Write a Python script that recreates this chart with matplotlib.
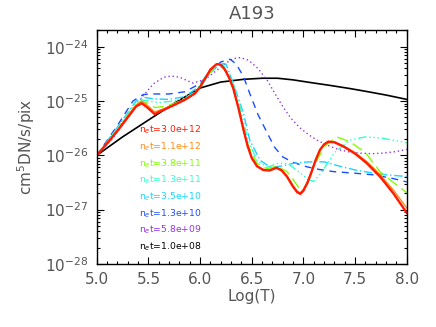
import numpy as np
import matplotlib
matplotlib.use("Agg")
import matplotlib.pyplot as plt
from matplotlib.ticker import MultipleLocator, LogLocator, NullFormatter, FixedLocator

title = "A193"
xlabel = "Log(T)"
ylabel = "cm$^5$DN/s/pix"

labels = ["3.0e+12", "1.1e+12", "3.8e+11", "1.3e+11", "3.5e+10", "1.3e+10", "5.8e+09", "1.0e+08"]

x_red = [5.0,5.1,5.2,5.3,5.38,5.435,5.49,5.56,5.65,5.74,5.85,5.95,6.0,6.05,6.1,6.16,6.2,6.24,6.28,6.32,6.37,6.42,6.46,6.5,6.55,6.61,6.67,6.74,6.79,6.84,6.9,6.94,6.97,7.0,7.04,7.07,7.12,7.16,7.2,7.24,7.3,7.39,7.5,7.61,7.74,7.87,8.0]
y_red = [-26.0,-25.78,-25.55,-25.3,-25.1,-25.04,-25.12,-25.24,-25.16,-25.08,-24.98,-24.86,-24.74,-24.58,-24.42,-24.32,-24.33,-24.42,-24.57,-24.76,-25.12,-25.53,-25.83,-26.05,-26.2,-26.27,-26.28,-26.23,-26.28,-26.39,-26.58,-26.68,-26.71,-26.65,-26.5,-26.35,-26.08,-25.9,-25.8,-25.75,-25.76,-25.84,-25.97,-26.14,-26.39,-26.7,-27.06]

x_orange = [5.0,5.1,5.2,5.3,5.38,5.435,5.49,5.56,5.65,5.74,5.85,5.95,6.0,6.05,6.1,6.16,6.2,6.24,6.28,6.32,6.37,6.42,6.46,6.5,6.55,6.61,6.67,6.74,6.79,6.84,6.9,6.94,6.97,7.0,7.04,7.07,7.12,7.16,7.2,7.24,7.3,7.39,7.5,7.61,7.74,7.87,8.0]
y_orange = [-26.0,-25.77,-25.53,-25.27,-25.07,-25.0,-25.08,-25.2,-25.14,-25.07,-24.97,-24.86,-24.74,-24.58,-24.42,-24.32,-24.33,-24.42,-24.57,-24.76,-25.12,-25.53,-25.83,-26.05,-26.2,-26.26,-26.27,-26.22,-26.27,-26.38,-26.56,-26.66,-26.69,-26.63,-26.48,-26.33,-26.07,-25.89,-25.79,-25.74,-25.75,-25.83,-25.95,-26.11,-26.35,-26.64,-26.97]

x_green = [5.0,5.2,5.38,5.43,5.5,5.56,5.65,5.74,5.85,5.95,6.05,6.16,6.2,6.28,6.37,6.46,6.55,6.65,6.74,6.84,6.92,6.98,7.03,7.1,7.2,7.32,7.45,7.6,7.74,7.87,8.0]
y_green = [-26.0,-25.53,-25.07,-25.0,-25.05,-25.12,-25.1,-25.05,-24.97,-24.86,-24.58,-24.33,-24.33,-24.55,-25.1,-25.8,-26.15,-26.25,-26.2,-26.3,-26.5,-26.67,-26.55,-26.2,-25.85,-25.66,-25.75,-25.95,-26.3,-26.5,-26.69]

x_turq = [5.0,5.2,5.38,5.43,5.5,5.6,5.74,5.85,5.95,6.05,6.16,6.22,6.3,6.38,6.46,6.55,6.65,6.75,6.85,6.95,7.05,7.1,7.18,7.3,7.45,7.6,7.75,8.0]
y_turq = [-26.0,-25.5,-25.02,-24.98,-25.0,-25.03,-25.0,-24.95,-24.83,-24.55,-24.32,-24.33,-24.55,-25.05,-25.7,-26.1,-26.22,-26.15,-26.15,-26.3,-26.45,-26.48,-26.3,-25.95,-25.72,-25.66,-25.68,-25.77]

x_cyan = [5.0,5.2,5.38,5.45,5.55,5.7,5.85,6.0,6.1,6.2,6.25,6.32,6.42,6.48,6.58,6.68,6.78,6.9,7.05,7.2,7.35,7.5,7.65,7.8,8.0]
y_cyan = [-26.0,-25.48,-25.0,-24.93,-24.96,-24.97,-24.92,-24.72,-24.48,-24.3,-24.32,-24.67,-25.23,-25.72,-26.09,-26.22,-26.2,-26.15,-26.12,-26.12,-26.2,-26.27,-26.32,-26.36,-26.39]

x_blue = [5.0,5.2,5.35,5.45,5.55,5.7,5.85,6.0,6.1,6.2,6.29,6.35,6.42,6.48,6.56,6.65,6.72,6.8,6.9,7.03,7.15,7.29,7.5,7.68,7.85,8.0]
y_blue = [-26.0,-25.45,-25.0,-24.88,-24.87,-24.87,-24.83,-24.68,-24.45,-24.28,-24.23,-24.32,-24.55,-24.86,-25.25,-25.59,-25.85,-26.03,-26.13,-26.21,-26.26,-26.3,-26.33,-26.36,-26.42,-26.49]

x_purple = [5.0,5.15,5.3,5.45,5.55,5.65,5.72,5.8,5.93,6.05,6.15,6.25,6.32,6.39,6.47,6.56,6.65,6.72,6.8,6.88,6.97,7.05,7.13,7.25,7.35,7.45,7.55,7.67,7.77,7.9,8.0]
y_purple = [-26.0,-25.7,-25.3,-24.9,-24.68,-24.56,-24.54,-24.56,-24.67,-24.6,-24.45,-24.3,-24.22,-24.2,-24.25,-24.4,-24.62,-24.85,-25.1,-25.32,-25.5,-25.62,-25.72,-25.83,-25.9,-25.94,-25.96,-25.97,-25.96,-25.93,-25.89]

x_black = [5.0,5.25,5.5,5.75,6.0,6.2,6.42,6.6,6.75,6.9,7.07,7.25,7.45,7.6,7.8,8.0]
y_black = [-26.0,-25.66,-25.35,-25.04,-24.76,-24.65,-24.6,-24.58,-24.58,-24.61,-24.66,-24.71,-24.77,-24.82,-24.89,-24.97]

series = [
    (x_red, y_red, "#ff1a00", "-", 1.7),
    (x_orange, y_orange, "#ff8c1a", "-", 1.0),
    (x_green, y_green, "#80ff00", (0, (8, 4)), 1.0),
    (x_turq, y_turq, "#33ffcc", (0, (6, 2, 1, 2, 1, 2, 1, 2)), 1.0),
    (x_cyan, y_cyan, "#1ad5ff", (0, (6, 2, 1, 2)), 1.0),
    (x_blue, y_blue, "#1a4dff", (0, (5, 4)), 1.0),
    (x_purple, y_purple, "#9933dd", (0, (1, 2)), 1.0),
    (x_black, y_black, "#000000", "-", 1.2),
]
label_colors = ["#ff1a00", "#ff8c1a", "#80ff00", "#33ffcc", "#1ad5ff", "#1a4dff", "#9933dd", "#000000"]

fig = plt.figure(figsize=(4.36, 3.27), dpi=100)
ax = fig.add_axes([0.222, 0.193, 0.711, 0.714])

# draw in reverse so red is on top
for xs, ys, c, ls, lw in reversed(series):
    ax.plot(xs, 10.0 ** np.array(ys), color=c, linestyle=ls, linewidth=lw)

ax.set_yscale("log")
ax.set_xlim(5.0, 8.0)
ax.set_ylim(1e-28, 2e-24)
ax.xaxis.set_major_locator(MultipleLocator(0.5))
ax.xaxis.set_minor_locator(MultipleLocator(0.1))
ax.yaxis.set_major_locator(FixedLocator([1e-28, 1e-27, 1e-26, 1e-25, 1e-24]))
ax.yaxis.set_minor_locator(LogLocator(base=10, subs=np.arange(2, 10), numticks=20))
ax.yaxis.set_minor_formatter(NullFormatter())
ax.xaxis.set_major_formatter(plt.FuncFormatter(lambda v, p: f"{v:.1f}"))

tc = "#555555"
ax.tick_params(which="both", direction="in", top=True, right=True, color="black", labelcolor=tc)
ax.tick_params(which="major", length=5, width=0.8, labelsize=11, pad=6)
ax.tick_params(which="minor", length=2.5, width=0.8)
for s in ax.spines.values():
    s.set_linewidth(1.0)

ax.set_title(title, fontsize=13, color=tc, pad=8)
ax.set_xlabel(xlabel, fontsize=11, color=tc, labelpad=1)
ax.set_ylabel(ylabel, fontsize=11, color=tc, labelpad=6)

for i, (lab, c) in enumerate(zip(labels, label_colors)):
    ax.text(0.136, 0.574 - i * 0.0715, f"n$_e$t={lab}", transform=ax.transAxes,
            color=c, fontsize=6.7, va="center", ha="left")

fig.savefig("out.png", dpi=100)
